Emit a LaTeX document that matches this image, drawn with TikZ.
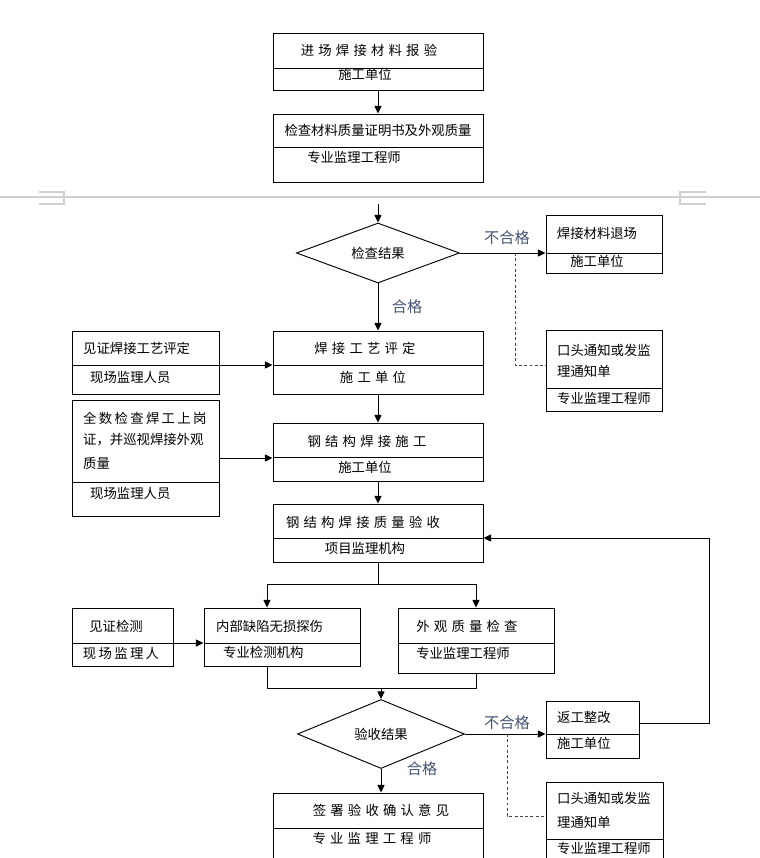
\documentclass[tikz,border=0pt]{standalone}
\usepackage{fontspec}
\newfontfamily\cjk{Noto Sans CJK SC}
\usetikzlibrary{arrows.meta,fit,shapes.geometric}
\definecolor{VerdictClr}{RGB}{68,84,116}
\definecolor{PageClr}{RGB}{208,208,208}
\definecolor{NoticeClr}{RGB}{70,70,70}

\begin{document}
\begin{tikzpicture}[x=0.03cm,y=-0.03cm,
  box/.style={draw,line width=0.8pt,inner sep=0pt},
  dia/.style={draw,diamond,line width=0.8pt,inner sep=0pt,shape aspect=2.7,font=\cjk\fontsize{11.4pt}{14pt}\selectfont},
  txt/.style={inner sep=0pt,font=\cjk\fontsize{11.4pt}{14pt}\selectfont,execute at begin node={\spaceskip=3.6pt\relax}},
  tight/.style={execute at begin node={\spaceskip=2pt\relax}},
  verdict/.style={inner sep=0pt,text=VerdictClr,font=\cjk\fontsize{13pt}{15pt}\selectfont},
  ln/.style={line width=0.8pt},
  arr/.style={line width=0.8pt,-{Triangle[length=6.5pt,width=6pt]}},
  notice/.style={line width=0.6pt,color=NoticeClr,dash pattern=on 2.5pt off 2pt},
  page/.style={line width=1pt,color=PageClr}]
\useasboundingbox (0,0) rectangle (760,858);
\clip (0,0) rectangle (760,858);

\draw[page] (0,197) -- (760,197);
\draw[page] (39,192) -- (64,192) -- (64,204) -- (39,204);
\draw[page] (706,192) -- (680,192) -- (680,204) -- (706,204);

\node[box,fit={(273,33)(483,90)}] (b1) {};
\draw[ln] (273,68) -- (483,68);
\node[txt] (b1a) at (369,50) {进 场 焊 接 材 料 报 验};
\node[txt] (b1b) at (365,74) {施工单位};

\node[box,fit={(273,114)(483,182)}] (b2) {};
\draw[ln] (273,147) -- (483,147);
\node[txt] (b2a) at (378,130) {检查材料质量证明书及外观质量};
\node[txt] (b2b) at (354,157) {专业监理工程师};

\node[dia,minimum width=4.89cm,minimum height=1.8cm] (d1) at (378,253) {检查结果};

\node[box,fit={(546,215)(662,273)}] (b3) {};
\draw[ln] (546,253) -- (662,253);
\node[txt] (b3a) at (597,233) {焊接材料退场};
\node[txt] (b3b) at (597,261) {施工单位};

\node[box,fit={(546,330)(662,411)}] (b4) {};
\draw[ln] (546,388) -- (662,388);
\node[txt,anchor=west] (b4a) at (557,350) {口头通知或发监};
\node[txt,anchor=west] (b4b) at (557,371) {理通知单};
\node[txt,anchor=west] (b4c) at (557,398) {专业监理工程师};

\node[verdict] (n1) at (507,238) {不合格};
\node[verdict] (p1) at (407,307) {合格};

\node[box,fit={(273,331)(483,394)}] (b5) {};
\draw[ln] (273,365) -- (483,365);
\node[txt] (b5a) at (365,348) {焊 接 工 艺 评 定};
\node[txt] (b5b) at (373,377) {施 工 单 位};

\node[box,fit={(72,331)(219,394)}] (b6) {};
\draw[ln] (72,365) -- (219,365);
\node[txt,anchor=west] (b6a) at (83,348) {见证焊接工艺评定};
\node[txt,anchor=west] (b6b) at (90,377) {现场监理人员};

\node[box,fit={(273,423)(483,481)}] (b7) {};
\draw[ln] (273,457) -- (483,457);
\node[txt] (b7a) at (367,441) {钢 结 构 焊 接 施 工};
\node[txt] (b7b) at (365,467) {施工单位};

\node[box,fit={(72,400)(219,516)}] (b8) {};
\draw[ln] (72,482) -- (219,482);
\node[txt,tight,anchor=west] (b8a) at (83,418) {全 数 检 查 焊 工 上 岗};
\node[txt,anchor=west] (b8b) at (83,440) {证，并巡视焊接外观};
\node[txt,anchor=west] (b8c) at (83,463) {质量};
\node[txt,anchor=west] (b8d) at (90,493) {现场监理人员};

\node[box,fit={(273,504)(483,562)}] (b9) {};
\draw[ln] (273,538) -- (483,538);
\node[txt] (b9a) at (363,522) {钢 结 构 焊 接 质 量 验 收};
\node[txt] (b9b) at (365,548) {项目监理机构};

\node[box,fit={(204,608)(360,666)}] (b10) {};
\draw[ln] (204,643) -- (360,643);
\node[txt,anchor=west] (b10a) at (216,626) {内部缺陷无损探伤};
\node[txt,anchor=west] (b10b) at (223,652) {专业检测机构};

\node[box,fit={(398,608)(554,673)}] (b11) {};
\draw[ln] (398,643) -- (554,643);
\node[txt] (b11a) at (467,626) {外 观 质 量 检 查};
\node[txt] (b11b) at (463,653) {专业监理工程师};

\node[box,fit={(72,608)(173,666)}] (b12) {};
\draw[ln] (72,643) -- (173,643);
\node[txt] (b12a) at (116,626) {见证检测};
\node[txt,tight] (b12b) at (121,653) {现 场 监 理 人};

\node[dia,minimum width=5.01cm,minimum height=2.07cm] (d2) at (381,734) {验收结果};

\node[box,fit={(546,701)(639,758)}] (b13) {};
\draw[ln] (546,734) -- (639,734);
\node[txt,anchor=west] (b13a) at (557,717) {返工整改};
\node[txt,anchor=west] (b13b) at (557,743) {施工单位};

\node[box,fit={(546,782)(663,880)}] (b14) {};
\draw[ln] (546,839) -- (663,839);
\node[txt,anchor=west] (b14a) at (557,798) {口头通知或发监};
\node[txt,anchor=west] (b14b) at (557,822) {理通知单};
\node[txt,anchor=west] (b14c) at (557,848) {专业监理工程师};

\node[box,fit={(273,793)(483,880)}] (b15) {};
\draw[ln] (273,828) -- (483,828);
\node[txt] (b15a) at (381,810) {签 署 验 收 确 认 意 见};
\node[txt] (b15b) at (372,838) {专 业 监 理 工 程 师};

\node[verdict] (n2) at (507,723) {不合格};
\node[verdict] (p2) at (422,769) {合格};

\coordinate (pb) at (378,204);
\coordinate (q1) at (515,253);
\coordinate (q2) at (515,365);
\coordinate (c6) at (219,365);
\coordinate (s0) at (378,584);
\coordinate (sL) at (267,584);
\coordinate (mL) at (267,688);
\coordinate (m0) at (381,688);
\coordinate (c12) at (173,643);
\coordinate (r1) at (709,723);
\coordinate (r2) at (709,538);
\coordinate (q3) at (507,734);
\coordinate (q4) at (507,816);

\draw[arr] (b1) -- (b2);
\draw[arr] (pb) -- (d1.north);
\draw[arr] (d1.east) -- (d1.east -| b3.west);
\draw[notice] (q1) -- (q2) -- (q2 -| b4.west);
\draw[arr] (d1.south) -- (b5.north);
\draw[arr] (c6) -- (c6 -| b5.west);
\draw[arr] (b5) -- (b7);
\draw[arr] (b8.east) -- (b8.east -| b7.west);
\draw[arr] (b7) -- (b9);
\draw[ln] (b9.south) -- (s0);
\draw[arr] (s0) -- (sL) -- (sL |- b10.north);
\draw[arr] (s0) -| (b11.north);
\draw[arr] (c12) -- (c12 -| b10.west);
\draw[ln] (mL |- b10.south) -- (mL) -| (b11.south);
\draw[arr] (m0) -- (d2.north);
\draw[arr] (d2.east) -- (d2.east -| b13.west);
\draw[notice] (q3) -- (q4) -- (q4 -| b14.west);
\draw[arr] (d2.south) -- (d2.south |- b15.north);
\draw[arr] (b13.east |- r1) -- (r1) -- (r2) -- (r2 -| b9.east);

\end{tikzpicture}
\end{document}
